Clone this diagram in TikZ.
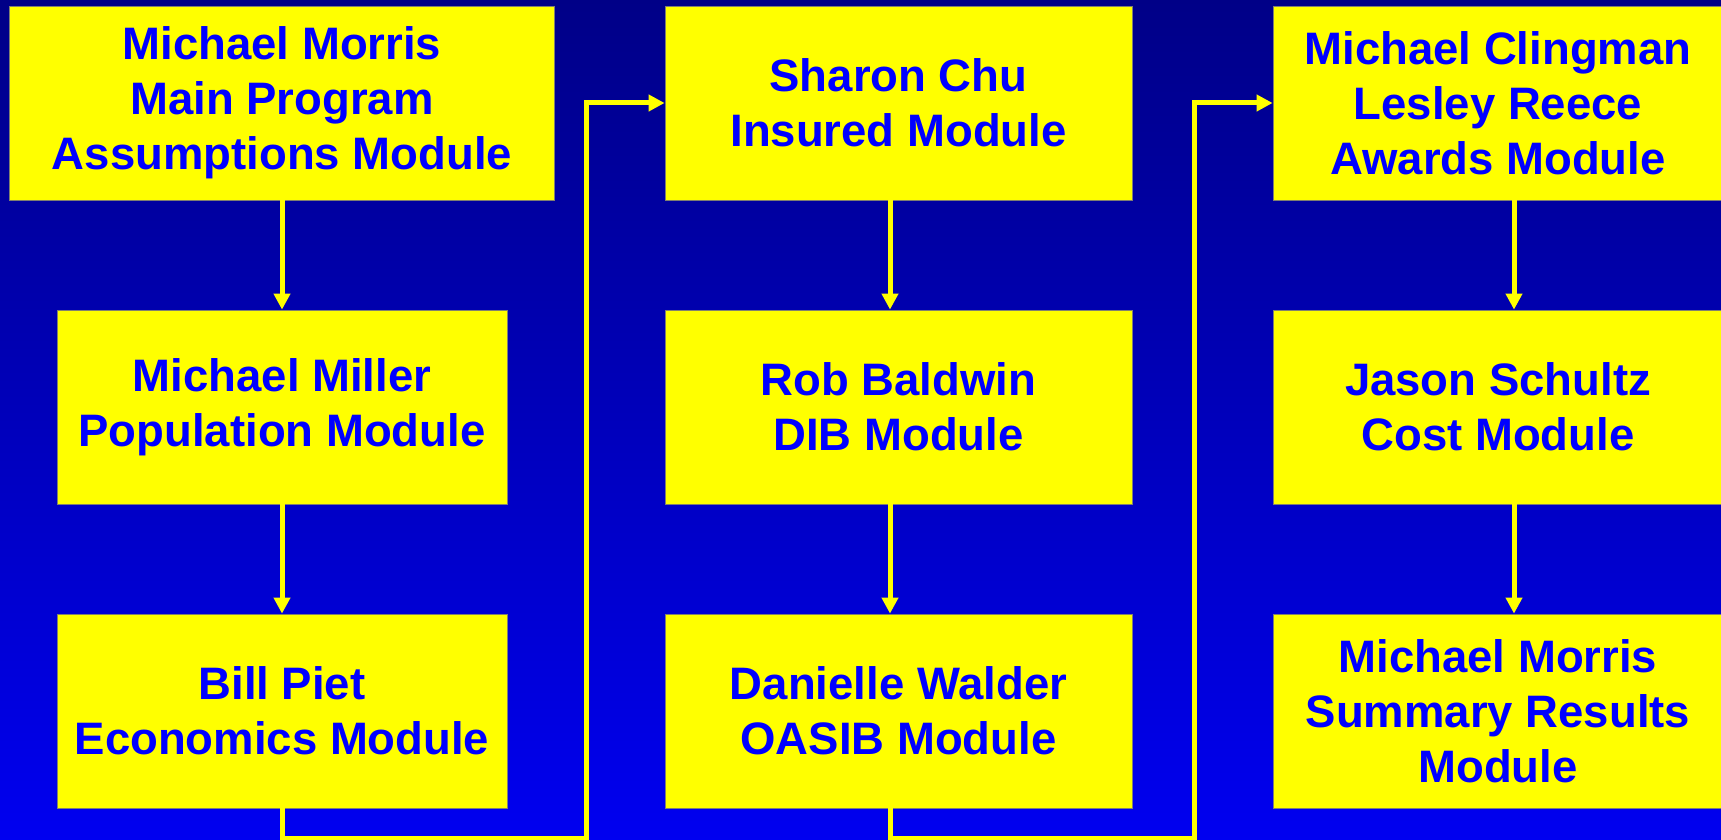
\documentclass[tikz,border=0pt]{standalone}
\usepackage{fontspec}
\setmainfont{Liberation Sans}
\usetikzlibrary{arrows.meta}
\definecolor{bgtop}{RGB}{0,0,135}
\definecolor{bgbot}{RGB}{0,0,240}
\definecolor{boxfill}{RGB}{255,255,0}
\definecolor{txt}{RGB}{0,0,255}
\definecolor{edge}{RGB}{128,128,112}
\begin{document}
\begin{tikzpicture}[x=1pt,y=-1pt,
  modbox/.style={draw=edge,line width=0.8pt,fill=boxfill,inner sep=0pt,
    minimum height=194pt,align=center,text=txt,
    font=\fontsize{45.5}{55}\selectfont\bfseries},
  wideA/.style={minimum width=545pt},
  wideB/.style={minimum width=467pt},
  wideC/.style={minimum width=450pt},
  link/.style={draw=boxfill,line width=5pt,line join=miter,
    -{Triangle[length=16pt,width=16pt]}}]
\useasboundingbox (0,0) rectangle (1721,840);
\clip (0,0) rectangle (1721,840);
\fill[top color=bgtop,bottom color=bgbot] (0,0) rectangle (1721,840);

\node[modbox,wideA] (a1) at (282,103) {Michael Morris\\Main Program\\Assumptions Module};
\node[modbox,wideC] (a2) at (282,407) {Michael Miller\\Population Module};
\node[modbox,wideC] (a3) at (282,711) {Bill Piet\\Economics Module};

\node[modbox,wideB] (b1) at (898.5,103) {Sharon Chu\\Insured Module};
\node[modbox,wideB] (b2) at (898.5,407) {Rob Baldwin\\DIB Module};
\node[modbox,wideB] (b3) at (898.5,711) {Danielle Walder\\OASIB Module};

\node[modbox,wideC] (c1) at (1498,103) {Michael Clingman\\Lesley Reece\\Awards Module};
\node[modbox,wideC] (c2) at (1498,407) {Jason Schultz\\Cost Module};
\node[modbox,wideC] (c3) at (1498,711) {Michael Morris\\Summary Results\\Module};

\coordinate (j1) at (586,838);
\coordinate (j2) at (1194.5,838);

\draw[link] (a1.south) -- (a2.north);
\draw[link] (a2.south) -- (a3.north);
\draw[link] ([xshift=-8.5pt]b1.south) -- ([xshift=-8.5pt]b2.north);
\draw[link] ([xshift=-8.5pt]b2.south) -- ([xshift=-8.5pt]b3.north);
\draw[link] ([xshift=16pt]c1.south) -- ([xshift=16pt]c2.north);
\draw[link] ([xshift=16pt]c2.south) -- ([xshift=16pt]c3.north);

\draw[link] (a3.south) |- (j1) |- (b1.west);
\draw[link] ([xshift=-8.5pt]b3.south) |- (j2) |- (c1.west);
\end{tikzpicture}
\end{document}
